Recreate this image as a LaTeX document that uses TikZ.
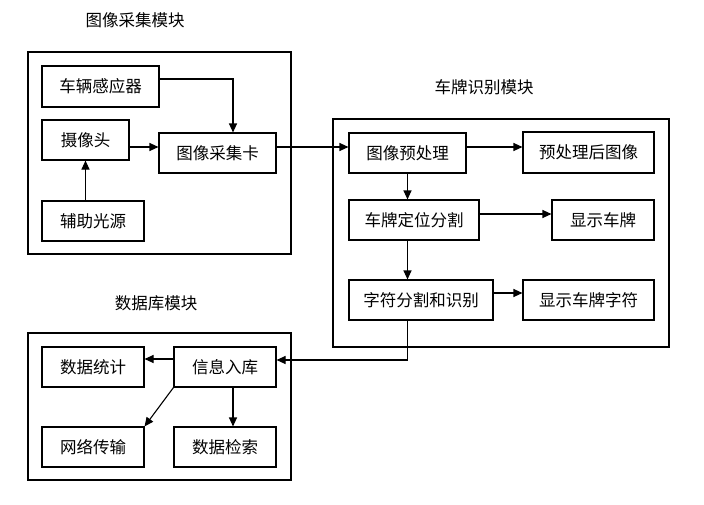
\documentclass[tikz,border=0pt]{standalone}
\usepackage{fontspec}
\newfontfamily\cjk{Noto Sans CJK SC}
\usetikzlibrary{arrows.meta}
\begin{document}
\begin{tikzpicture}[x=1pt,y=-1pt,
  box/.style={draw,line width=1.1pt,rectangle,inner sep=0pt,font=\cjk\fontsize{16.5}{18}\selectfont},
  outer/.style={draw,line width=1.1pt,rectangle,inner sep=0pt},
  ttl/.style={font=\cjk\fontsize{16.5}{18}\selectfont,inner sep=0pt},
  arr/.style={line width=1.1pt,-{Triangle[length=9pt,width=8pt]}}]
\useasboundingbox (0,0) rectangle (704,504);
% titles
\node[ttl] (t1) at (135,20) {图像采集模块};
\node[ttl] (t2) at (484,87) {车牌识别模块};
\node[ttl] (t3) at (156,303) {数据库模块};
% outer boxes
\node[outer,minimum width=263pt,minimum height=202pt] (o1) at (159.5,153) {};
\node[outer,minimum width=336pt,minimum height=228pt] (o2) at (501,233) {};
\node[outer,minimum width=263pt,minimum height=147pt] (o3) at (159.5,406.5) {};
% module 1
\node[box,minimum width=117pt,minimum height=41pt] (sensor) at (100.5,86.5) {车辆感应器};
\node[box,minimum width=87pt,minimum height=40pt] (camera) at (85.5,140) {摄像头};
\node[box,minimum width=117pt,minimum height=40pt] (card) at (217.5,153) {图像采集卡};
\node[box,minimum width=102pt,minimum height=40pt] (light) at (93,221) {辅助光源};
% module 2
\node[box,minimum width=117pt,minimum height=40pt] (pre) at (407.5,153) {图像预处理};
\node[box,minimum width=131pt,minimum height=41pt] (preimg) at (588.5,152.5) {预处理后图像};
\node[box,minimum width=130pt,minimum height=40pt] (locate) at (414,220) {车牌定位分割};
\node[box,minimum width=102pt,minimum height=40pt] (plate) at (603,220) {显示车牌};
\node[box,minimum width=144pt,minimum height=40pt] (chars) at (421,300) {字符分割和识别};
\node[box,minimum width=131pt,minimum height=40pt] (charshow) at (588.5,300) {显示车牌字符};
% module 3
\node[box,minimum width=102pt,minimum height=40pt] (stat) at (93,367) {数据统计};
\node[box,minimum width=102pt,minimum height=40pt] (store) at (225,367) {信息入库};
\node[box,minimum width=102pt,minimum height=40pt] (net) at (93,447) {网络传输};
\node[box,minimum width=102pt,minimum height=40pt] (search) at (225,447) {数据检索};
% arrows module 1
\draw[arr] ([yshift=7.5pt]sensor.east) -| ([xshift=15.5pt]card.north);
\draw[arr] ([yshift=-7pt]camera.east) -- ([yshift=6pt]card.west);
\draw[arr] (light.north -| camera.south) -- (camera.south);
\draw[arr] ([yshift=6pt]card.east) -- ([yshift=6pt]pre.west);
% module 2
\draw[arr] ([yshift=6pt]pre.east) -- ([yshift=5.5pt]preimg.west);
\draw[arr] (pre.south) -- (locate.north -| pre.south);
\draw[arr] ([yshift=6pt]locate.east) -- ([yshift=6pt]plate.west);
\draw[arr] (locate.south -| pre.south) -- (chars.north -| pre.south);
\draw[arr] ([yshift=7pt]chars.east) -- ([yshift=7pt]charshow.west);
\draw[arr] (chars.south -| pre.south) |- ([yshift=7pt]store.east);
% module 3
\draw[arr] ([yshift=8pt]store.west) -- ([yshift=8pt]stat.east);
\draw[arr] (store.south west) -- (net.north east);
\draw[arr] ([xshift=8pt]store.south) -- ([xshift=8pt]search.north);
\end{tikzpicture}
\end{document}
